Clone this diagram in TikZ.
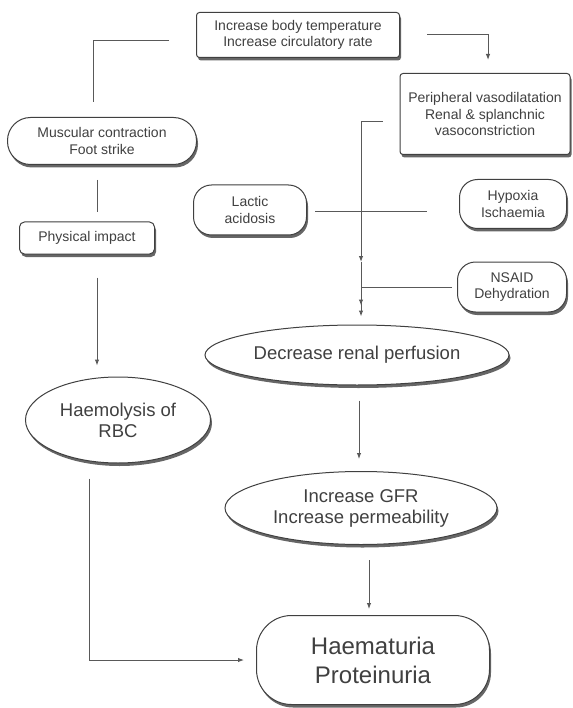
\documentclass[tikz,border=0pt]{standalone}
\usepackage{fontspec}
\setmainfont{Liberation Sans}
\usetikzlibrary{arrows.meta, positioning, shapes.geometric, shadows}

\begin{document}
\begin{tikzpicture}[
    x=1pt, y=-1pt,
    line width=1pt,
    every node/.style={align=center, text=black!75, inner sep=2pt},
    cast/.style={drop shadow={shadow xshift=1.5pt, shadow yshift=-3pt, fill=black!80, opacity=0.75}},
    box node/.style={rectangle, rounded corners=3pt, draw=black!75, fill=white, cast, font=\fontsize{14}{16.5}\selectfont},
    pill node/.style={box node, rounded corners=18pt},
    oval node/.style={ellipse, inner sep=0pt, draw=black!75, fill=white, cast, font=\fontsize{18.5}{21}\selectfont},
    link/.style={draw=black!65},
    arrow/.style={link, -{Latex[length=6pt, width=4.5pt]}}
]
    \useasboundingbox (0,0) rectangle (572,708);

    % Causes
    \node[box node, minimum width=203pt, minimum height=45pt] (heat) at (298, 35)
        {Increase body temperature\\Increase circulatory rate};
    \node[box node, minimum width=170pt, minimum height=81pt] (peri) at (485, 114)
        {Peripheral vasodilatation\\Renal \& splanchnic\\vasoconstriction};
    \node[pill node, rounded corners=23pt, minimum width=189pt, minimum height=47pt] (musc) at (102, 141)
        {Muscular contraction\\Foot strike};
    \node[box node, rounded corners=5pt, minimum width=135pt, minimum height=32pt] (impact) at (87, 238)
        {Physical impact};
    \node[pill node, minimum width=113pt, minimum height=50pt] (lactic) at (250, 210)
        {Lactic\\acidosis};
    \node[pill node, minimum width=107pt, minimum height=49pt] (hypoxia) at (513, 204)
        {Hypoxia\\Ischaemia};
    \node[pill node, minimum width=109pt, minimum height=50pt] (nsaid) at (512, 287)
        {NSAID\\Dehydration};

    % Effects
    \node[oval node, minimum width=304pt, minimum height=60pt] (renal) at (357, 355)
        {Decrease renal perfusion};
    \node[oval node, minimum width=185pt, minimum height=86pt] (haemo) at (118, 420)
        {Haemolysis of\\RBC};
    \node[oval node, minimum width=272pt, minimum height=73pt] (gfr) at (361, 508)
        {Increase GFR\\Increase permeability};
    \node[pill node, rounded corners=35pt, minimum width=233pt, minimum height=89pt,
          font=\fontsize{24}{29}\selectfont] (urine) at (373, 660)
        {Haematuria\\Proteinuria};

    % Junctions
    \coordinate (tip) at (361, 262);
    \coordinate (join) at (361, 287);

    % Edges
    \draw[link, shorten <=27pt, shorten >=15pt] ([yshift=-6pt]heat.west) -| ([xshift=-9pt]musc.north);
    \draw[arrow, shorten <=27pt, shorten >=13pt] (heat.east) -| ([xshift=3pt]peri.north);
    \draw[arrow, shorten <=17pt] ([yshift=-8pt]peri.west) -| (tip);
    \draw[link, shorten <=8pt, shorten >=32pt] ([yshift=-2pt]lactic.east) -- ([yshift=-2pt]lactic.east -| hypoxia.west);
    \draw[link, shorten <=5pt] (nsaid.west) -- (join);
    \draw[arrow, shorten >=19pt] (join) -- (renal.north -| join);
    \draw[arrow, shorten >=8pt] (tip) -- (renal.north -| tip);
    \draw[link, shorten <=15pt, shorten >=9pt] ([xshift=-5pt]musc.south) -- ([xshift=-5pt]musc.south |- impact.north);
    \draw[arrow, shorten <=23pt, shorten >=11pt] ([xshift=10pt]impact.south) -- ([xshift=10pt]impact.south |- haemo.north);
    \draw[arrow, shorten <=15pt, shorten >=12pt] ([xshift=-29pt]haemo.south) |- (urine.west);
    \draw[arrow, shorten <=15pt, shorten >=12pt] ([xshift=2pt]renal.south) -- ([xshift=2pt]renal.south |- gfr.north);
    \draw[arrow, shorten <=15pt, shorten >=6pt] ([xshift=8pt]gfr.south) -- ([xshift=8pt]gfr.south |- urine.north);
\end{tikzpicture}
\end{document}
